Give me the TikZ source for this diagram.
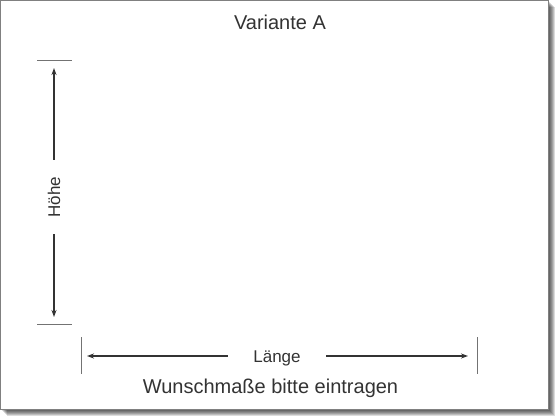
\documentclass[tikz,border=0pt]{standalone}
\usepackage{fontspec}
\setmainfont{Liberation Sans}
\usetikzlibrary{calc}
\usetikzlibrary{arrows.meta}

\begin{document}
\begin{tikzpicture}[x=1pt,y=-1pt]

\def\pagew{548}
\def\pageh{409}
\def\lwdim{1.3pt}
\def\lwtick{1pt}

\tikzset{
dimline/.style = {draw=black!80, line width=\lwdim, -{Stealth[length=7pt,width=5pt]}},
tickline/.style = {draw=black!55, line width=\lwtick},
dimlabel/.style = {text=black!80, font=\fontsize{17}{19}\selectfont, inner ysep=2pt, text height=12.2pt, text depth=0pt},
}

\useasboundingbox (0,0) rectangle (560,420);

% shadow and page
\foreach \s in {1,...,7}
	\fill[black, opacity=0.14] (\s,\s) rectangle (\pagew+\s,\pageh+\s);
\draw[fill=white, draw=black!50, line width=1pt] (0.5,0.5) rectangle (\pagew,\pageh);

% texts
\node[text=black!80, font=\fontsize{20}{22}\selectfont, anchor=base] (title) at (280,30) {Variante A};
\node[text=black!80, font=\fontsize{20}{22}\selectfont, anchor=base] (hint) at (270.5,393) {Wunschmaße bitte eintragen};

% height
\coordinate (htop) at (54,61);
\coordinate (hbot) at (54,324);
\node[dimlabel, rotate=90, inner xsep=16.5pt] (hoehe) at (54,197) {Höhe};
\draw[tickline] ($(htop)+(-17,0)$) -- +(35,0);
\draw[tickline] ($(hbot)+(-17,0)$) -- +(35,0);
\draw[dimline] (hoehe) -- ($(htop)+(0,7)$);
\draw[dimline] (hoehe) -- ($(hbot)+(0,-7)$);

% length
\coordinate (lleft) at (81,356);
\coordinate (lright) at (477,356);
\node[dimlabel, inner xsep=25.5pt] (laenge) at (277,356) {Länge};
\draw[tickline] ($(lleft)+(0,-19)$) -- +(0,37);
\draw[tickline] ($(lright)+(0,-19)$) -- +(0,37);
\draw[dimline] (laenge) -- ($(lleft)+(6,0)$);
\draw[dimline] (laenge) -- ($(lright)+(-9,0)$);

\end{tikzpicture}
\end{document}
